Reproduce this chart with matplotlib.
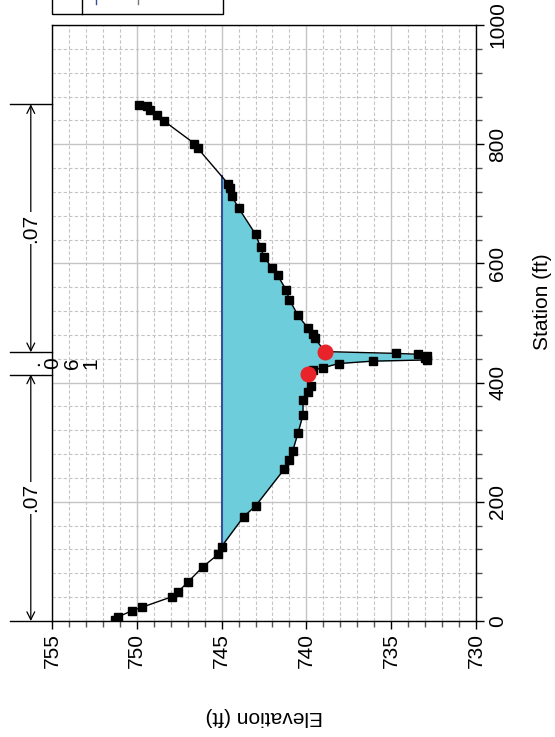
import matplotlib
matplotlib.use("Agg")
import matplotlib.pyplot as plt
from matplotlib.ticker import MultipleLocator
from matplotlib.transforms import blended_transform_factory
from matplotlib.patches import Rectangle
import numpy as np

plt.rcParams['font.family'] = ['Liberation Sans', 'DejaVu Sans']

# ---- data (station ft, elevation ft) ----
station = [2, 7, 17, 23, 41, 48, 65, 91, 112, 125, 175, 193, 255, 270, 286, 315,
           346, 371, 385, 394, 414, 421, 425, 432, 436, 438, 441, 445, 447.5, 449,
           452, 474, 481, 491, 513, 539, 556, 580, 593, 611, 627, 649, 693, 713,
           726, 733, 793, 801, 839, 849, 857, 864, 866]
elevation = [751.3, 751.1, 750.3, 749.7, 747.9, 747.6, 747.0, 746.1, 745.2, 745.0,
             743.7, 743.0, 741.3, 741.0, 740.8, 740.5, 740.2, 740.2, 739.9, 739.7,
             739.9, 739.6, 739.0, 738.1, 736.1, 732.9, 733.0, 732.9, 733.4, 734.7,
             738.9, 739.5, 739.6, 739.9, 740.5, 741.0, 741.2, 741.7, 742.05, 742.5,
             742.7, 743.0, 744.0, 744.4, 744.5, 744.6, 746.4, 746.6, 748.4, 748.8,
             749.2, 749.4, 749.85]
bank_stations = [414, 452]
bank_elevations = [739.9, 738.9]
water_surface = 745.0
n_values = ['.07', '.061', '.07']

elev_ticks = [755, 750, 745, 740, 735, 730]
station_ticks = [0, 200, 400, 600, 800, 1000]

st = np.array(station)
el = np.array(elevation)

fig = plt.figure(figsize=(5.55, 7.37), dpi=100)
ax = fig.add_axes([52/555, 1-621/737, 424/555, 596/737])

ax.set_xlim(755, 730)
ax.set_ylim(0, 1000)

# grid
ax.xaxis.set_minor_locator(MultipleLocator(1))
ax.yaxis.set_minor_locator(MultipleLocator(40))
ax.grid(which='major', color='#c4c4c4', lw=1.0, ls='-')
ax.grid(which='minor', color='#c4c4c4', lw=0.8, ls=(0, (3, 2)))
ax.set_axisbelow(True)

# water fill
ax.fill_betweenx(st, el, water_surface, where=el < water_surface,
                 interpolate=True, color='#6ecdda', lw=0, zorder=2)
# water surface line extent
below = el < water_surface
idx = np.where(below)[0]
i0, i1 = idx[0], idx[-1]
s_left = np.interp(water_surface, [el[i0], el[i0-1]], [st[i0], st[i0-1]])
s_right = np.interp(water_surface, [el[i1], el[i1+1]], [st[i1], st[i1+1]])
ax.plot([water_surface, water_surface], [s_left, s_right], color='#34509c', lw=1.5, zorder=3)

# ground
ax.plot(el, st, color='black', lw=1.0, marker='s', ms=6, mfc='black', mec='black', zorder=4)
ax.plot(bank_elevations, bank_stations, ls='none', marker='o', ms=10.5,
        mfc='#e8232a', mec='#e8232a', zorder=5)

# ticks
ax.xaxis.set_ticks_position('bottom')
ax.yaxis.set_ticks_position('right')
ax.yaxis.set_label_position('right')
ax.set_xticks(elev_ticks)
ax.set_xticklabels([str(t) for t in elev_ticks], rotation=90, va='top', ha='center', fontsize=15)
ax.set_yticks(station_ticks)
ax.set_yticklabels([str(t) for t in station_ticks], rotation=90, va='center', ha='left', fontsize=15)
ax.tick_params(which='major', direction='out', length=6, width=1, color='black', pad=3)
ax.tick_params(which='minor', direction='out', length=4, width=1, color='#555555')
for sp in ax.spines.values():
    sp.set_color('black')
    sp.set_linewidth(1.0)

ax.set_xlabel('Elevation (ft)', rotation=180, fontsize=15, labelpad=28)
ax.set_ylabel('Station (ft)', rotation=90, fontsize=15, labelpad=16)
ax.yaxis.set_label_coords(1.135, 0.535)

# n-value dimension marks (outside left of axes)
trans = blended_transform_factory(ax.transAxes, ax.transData)
marks = [station[0] - 2, bank_stations[0] - 0.5, bank_stations[1] - 1, station[-1] + 1]
for s in marks:
    ax.plot([-0.099, 0], [s, s], transform=trans, color='black', lw=1.0, clip_on=False)
for (a, b), lab in zip([(marks[0], marks[1]), (marks[2], marks[3])], [n_values[0], n_values[2]]):
    ax.annotate('', xy=(-0.05, a), xytext=(-0.05, b), xycoords=trans, textcoords=trans,
                arrowprops=dict(arrowstyle='<->', color='black', lw=0.9,
                                shrinkA=0, shrinkB=0, mutation_scale=14),
                annotation_clip=False)
    ax.text(-0.05, (a + b) / 2, lab, transform=trans, rotation=90, fontsize=15,
            ha='center', va='center', bbox=dict(fc='white', ec='none', pad=1), clip_on=False)
# channel n-value: too narrow, so it is written one character per line
ax.text(0.025, (marks[1] + marks[2]) / 2, '\n'.join(n_values[1]), transform=trans,
        rotation=90, fontsize=15, ha='center', va='center', linespacing=1.0,
        multialignment='center', clip_on=False)

# clipped legend frame at the top
fig.patches.append(Rectangle((52/555, 1-14/737), (223-52)/555, 30/737, transform=fig.transFigure,
                             fill=False, ec='black', lw=1.0))
fig.lines.append(plt.Line2D([82/555, 82/555], [1-14/737, 1.0], transform=fig.transFigure, color='black', lw=1))
fig.lines.append(plt.Line2D([96/555, 96/555], [1-4/737, 1.0], transform=fig.transFigure, color='#34509c', lw=1))
fig.lines.append(plt.Line2D([138/555, 138/555], [1-4/737, 1.0], transform=fig.transFigure, color='#777777', lw=1))

fig.savefig('out.png', dpi=100)
